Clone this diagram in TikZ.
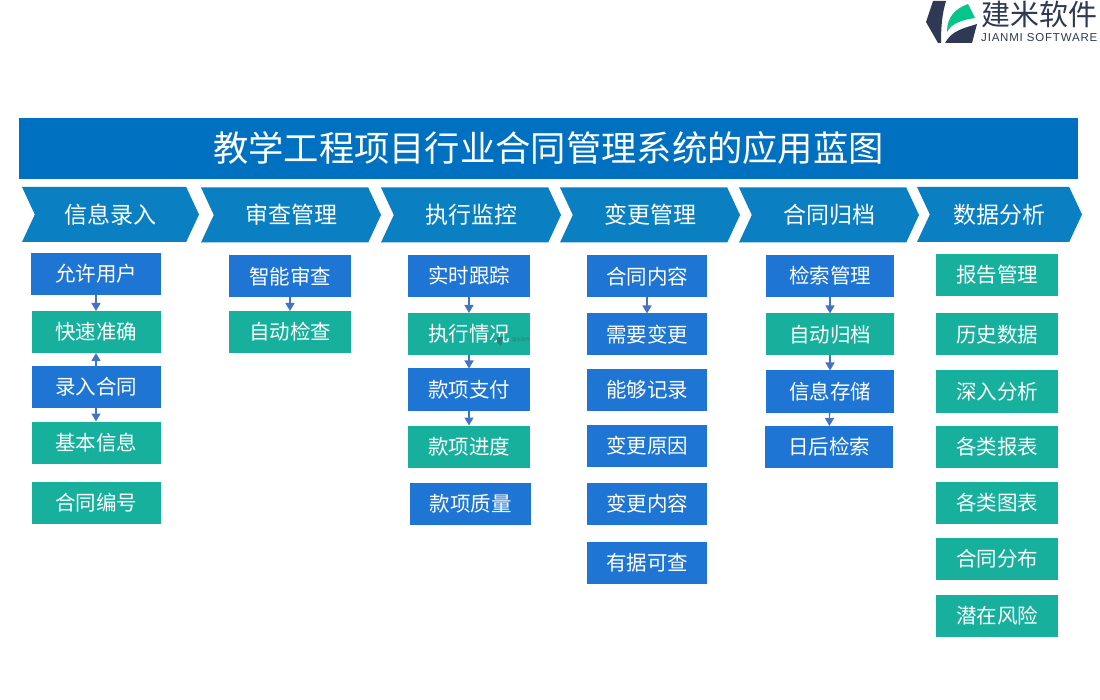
\documentclass[tikz,border=0pt]{standalone}
\usepackage{fontspec}
\setmainfont{Noto Sans CJK SC}
\setsansfont{Liberation Sans}
\newfontfamily\logofont[LetterSpace=7]{Liberation Sans}
\usepackage{xcolor}
\usetikzlibrary{shapes.symbols, arrows.meta, positioning}
\definecolor{TitleBlue}{HTML}{0070C0}
\definecolor{ChevronBlue}{HTML}{0A7FC1}
\definecolor{BoxBlue}{HTML}{1F75D3}
\definecolor{BoxTeal}{HTML}{17B09C}
\definecolor{ArrowBlue}{HTML}{4472C4}
\definecolor{LogoDark}{HTML}{2F3855}
\definecolor{LogoGreen}{HTML}{06C58A}
\definecolor{MarkGray}{HTML}{2F7F78}

\begin{document}
\begin{tikzpicture}[
  x=1pt, y=-1pt,
  titlebar/.style={rectangle, fill=TitleBlue, minimum width=1059pt, minimum height=61pt,
    font=\fontsize{35.3}{36}\selectfont, text=white, inner sep=0pt, outer sep=0pt},
  phase/.style={signal, signal to=east, signal from=west, signal pointer angle=130,
    fill=ChevronBlue, minimum width=180pt, minimum height=55pt, inner sep=0pt, outer sep=0pt,
    font=\fontsize{23}{23}\selectfont, text=white},
  item/.style={rectangle, minimum height=42pt, inner sep=0pt, outer sep=0pt, text=white,
    font=\fontsize{20.5}{21}\selectfont},
  blue/.style={item, fill=BoxBlue},
  teal/.style={item, fill=BoxTeal},
  arr/.style={-{Triangle[length=8pt,width=9pt]}, line width=1.3pt, ArrowBlue}
]
\useasboundingbox (0,0) rectangle (1100,700);

% logo
\fill[LogoDark] (933,1) -- (946,1) .. controls (942,14) and (941,27) .. (941,43) -- (938,43) -- (926,22) -- cycle;
\fill[LogoDark] (945,43) -- (972,43) -- (977,24) .. controls (965,28) and (952,30) .. (945,43) -- cycle;
\fill[LogoGreen] (947,32) .. controls (947,18) and (954,9) .. (968,4) -- (975,18) .. controls (962,20) and (952,23) .. (947,32) -- cycle;
\node[anchor=west, inner sep=0pt, text=LogoDark, font=\fontsize{29}{29}\selectfont] (logotext) at (981,14) {建米软件};
\node[anchor=west, inner sep=0pt, text=LogoDark, font=\logofont\fontsize{11.5}{12}\selectfont] (logosub) at (981,38) {JIANMI SOFTWARE};

\node[titlebar] (title) at (548.5,148.5) {教学工程项目行业合同管理系统的应用蓝图};

\node[phase, minimum width=177pt] (p1) at (110.5,214.5) {信息录入};
\node[phase] (p2) at (291,215) {审查管理};
\node[phase] (p3) at (471,215) {执行监控};
\node[phase] (p4) at (650,215) {变更管理};
\node[phase] (p5) at (829,215) {合同归档};
\node[phase, minimum width=165pt] (p6) at (999.5,214.5) {数据分析};

% column 1
\node[blue, minimum width=130pt] (a1) at (96,274) {允许用户};
\node[teal, minimum width=129pt, below=16pt of a1] (a2) {快速准确};
\node[blue, minimum width=129pt, below=13pt of a2] (a3) {录入合同};
\node[teal, minimum width=129pt, below=13.5pt of a3] (a4) {基本信息};
\node[teal, minimum width=129pt, below=18.5pt of a4] (a5) {合同编号};

\draw[arr] (a1)--(a2);
\draw[arr] (a3)--(a2);
\draw[arr] (a3)--(a4);

% column 2
\node[blue, minimum width=122pt] (b1) at (290,276.5) {智能审查};
\node[teal, minimum width=122pt, below=13.5pt of b1] (b2) {自动检查};

\draw[arr] (b1)--(b2);

% column 3
\node[blue, minimum width=122pt] (c1) at (469,276) {实时跟踪};
\node[teal, minimum width=122pt, below=16pt of c1] (c2) {执行情况};
\node[blue, minimum width=122pt, below=13.5pt of c2] (c3) {款项支付};
\node[teal, minimum width=122pt, below=15pt of c3] (c4) {款项进度};
\node[blue, minimum width=121pt, below=15pt of c4, xshift=1.5pt] (c5) {款项质量};

\draw[arr] (c1)--(c2);
\draw[arr] (c2)--(c3);
\draw[arr] (c3)--(c4);

% small mark on the second box of column 3
\fill[MarkGray] (497,337) -- (503,337) -- (501,346) -- (497,342) -- cycle;
\node[anchor=west, inner sep=0pt, text=MarkGray, font=\fontsize{4.5}{5}\selectfont] (marktext) at (512,340) {建米软件};

% column 4
\node[blue, minimum width=120pt] (d1) at (647,276.5) {合同内容};
\node[blue, minimum width=120pt, below=16pt of d1] (d2) {需要变更};
\node[blue, minimum width=120pt, below=13.5pt of d2] (d3) {能够记录};
\node[blue, minimum width=120pt, below=14pt of d3] (d4) {变更原因};
\node[blue, minimum width=120pt, below=15.5pt of d4] (d5) {变更内容};
\node[blue, minimum width=120pt, below=17.5pt of d5] (d6) {有据可查};

\draw[arr] (d1)--(d2);

% column 5
\node[blue, minimum width=128pt] (e1) at (830,276) {检索管理};
\node[teal, minimum width=128pt, below=16.5pt of e1] (e2) {自动归档};
\node[blue, minimum width=128pt, below=15pt of e2] (e3) {信息存储};
\node[blue, minimum width=128pt, below=13.5pt of e3, xshift=-1pt] (e4) {日后检索};

\draw[arr] (e1)--(e2);
\draw[arr] (e2)--(e3);
\draw[arr] (e3)--(e4);

% column 6
\node[teal, minimum width=122pt] (f1) at (997,275) {报告管理};
\node[teal, minimum width=122pt, below=17.5pt of f1] (f2) {历史数据};
\node[teal, minimum width=122pt, below=15pt of f2] (f3) {深入分析};
\node[teal, minimum width=122pt, below=13.5pt of f3] (f4) {各类报表};
\node[teal, minimum width=122pt, below=14pt of f4] (f5) {各类图表};
\node[teal, minimum width=122pt, below=14pt of f5] (f6) {合同分布};
\node[teal, minimum width=122pt, below=14.5pt of f6] (f7) {潜在风险};

\end{tikzpicture}
\end{document}
